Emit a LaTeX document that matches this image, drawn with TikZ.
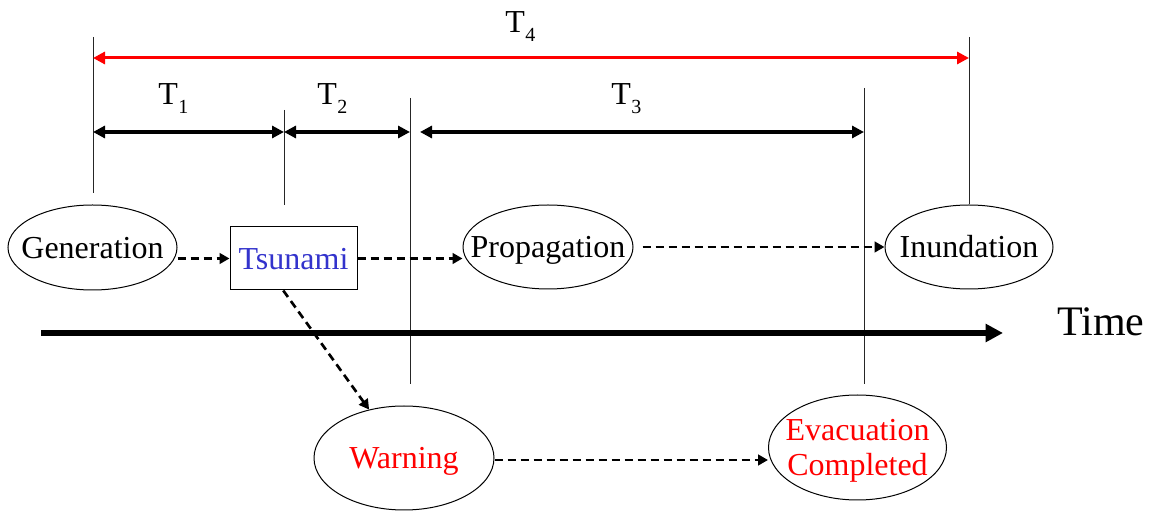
\documentclass[tikz,border=0pt]{standalone}
\usepackage{fontspec}
\setmainfont{Liberation Serif}
\usetikzlibrary{arrows.meta,calc,shapes.geometric}
\definecolor{tsublue}{RGB}{51,51,204}
\newcommand{\zw}[1]{\makebox[0pt]{#1}}
\newcommand{\sbx}[1]{\kern0.5pt\raisebox{-6.75pt}{\fontsize{15}{15}\selectfont #1}}
\tikzset{
  fnt/.style={font=\fontsize{24}{26.25}\selectfont},
  ell/.style={fnt,draw,ellipse,line width=0.75pt,inner sep=0pt,text height=15.9pt,text depth=0pt},
  ell2/.style={fnt,draw,ellipse,line width=0.75pt,inner sep=0pt,text depth=0pt,align=center},
  boxnode/.style={fnt,draw,rectangle,line width=0.75pt,inner sep=0pt,text height=15.9pt,text depth=0pt},
  mark line/.style={line width=0.75pt,draw=black!85},
  span/.style={line width=2.6pt,{Triangle[length=9pt,width=9pt]}-{Triangle[length=9pt,width=9pt]}},
  flow/.style={line width=2pt,dash pattern=on 6pt off 3.75pt,-{Triangle[length=7.5pt,width=8pt]}},
  lab/.style={fnt,anchor=base west,inner sep=0pt},
}
\begin{document}
\begin{tikzpicture}[x=0.75pt,y=-0.75pt]
\useasboundingbox (0,0) rectangle (1158,516);

% nodes
\node[ell,minimum width=126.75pt,minimum height=63.75pt] (gen) at (92.5,247.5) {\zw{Generation}};
\node[boxnode,minimum width=95.25pt,minimum height=47.25pt,text=tsublue] (tsu) at (293.5,258.5) {\zw{Tsunami}};
\node[ell,minimum width=127.5pt,minimum height=63pt] (prop) at (548,247) {\zw{Propagation}};
\node[ell,minimum width=126pt,minimum height=63pt] (inu) at (969,247) {\zw{Inundation}};
\node[ell,minimum width=135pt,minimum height=78pt,text=red] (warn) at (404,458) {\zw{Warning}};
\node[ell2,minimum width=133.5pt,minimum height=78.75pt,text=red] (evac) at (857.5,447.5) {\zw{Evacuation}\\\zw{Completed}};

% marker line coordinates
\coordinate (a1) at (93,37);   \coordinate (a2) at (93,193);
\coordinate (b1) at (284,110); \coordinate (b2) at (284,205);
\coordinate (c1) at (410,98);  \coordinate (c2) at (410,384);
\coordinate (d1) at (864,88);  \coordinate (d2) at (864,384);
\coordinate (e1) at (969,37);
\draw[mark line] (a1) -- (a2);
\draw[mark line] (b1) -- (b2);
\draw[mark line] (c1) -- (c2);
\draw[mark line] (d1) -- (d2);
\draw[mark line] (e1) -- (inu.north);

% spans
\coordinate (r1) at (93,58);   \coordinate (r2) at (969,58);
\coordinate (s1) at (93,132);  \coordinate (s2) at (284,132);
\coordinate (s3) at (410,132); \coordinate (s4) at (420,132);
\coordinate (s5) at (864,132);
\draw[span,red,line width=2.25pt] (r1) -- (r2);
\draw[span] (s1) -- (s2);
\draw[span] (s2) -- (s3);
\draw[span] (s4) -- (s5);

\node[lab] (t4) at (505,33) {T\sbx{4}};
\node[lab] (t1) at (158,105) {T\sbx{1}};
\node[lab] (t2) at (317,105) {T\sbx{2}};
\node[lab] (t3) at (611,105) {T\sbx{3}};

% time axis
\coordinate (ts) at (41,333);
\coordinate (te) at (1003,333);
\draw[line width=4.5pt,-{Triangle[length=13pt,width=13pt]}] (ts) -- (te);
\node[lab,font=\fontsize{31.5}{34}\selectfont] (time) at (1057,336) {Time};

% flows
\draw[flow] (gen.east |- tsu.west) -- (tsu.west);
\draw[flow] (tsu.east) -- (prop.west |- tsu.east);
\draw[flow,shorten <=6.75pt] (prop.east) -- (inu.west);
\draw[flow] ($(tsu.south west)!0.42!(tsu.south east)$) -- (warn);
\draw[flow] ([yshift=-1.5pt]warn.east) -- ([yshift=-1.5pt]evac.west |- warn.east);
\end{tikzpicture}
\end{document}
